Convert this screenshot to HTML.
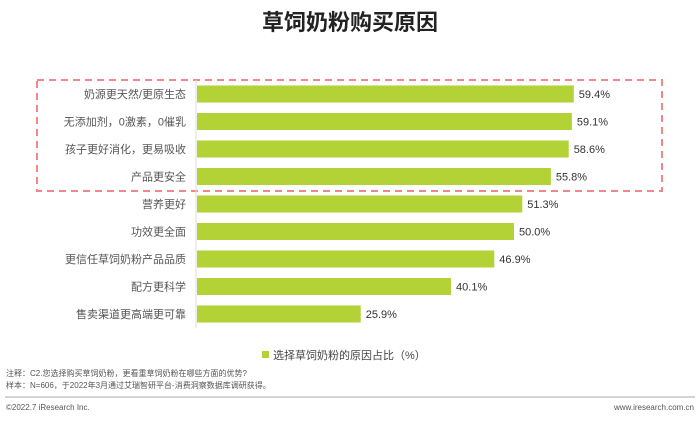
<!DOCTYPE html>
<html><head><meta charset="utf-8"><style>
body{margin:0;width:700px;height:420px;background:#fff;overflow:hidden;font-family:"Liberation Sans","Noto Sans CJK SC",sans-serif;}
svg text{font-family:"Liberation Sans","Noto Sans CJK SC",sans-serif;}
</style></head><body>
<svg id="c" width="700" height="420">
<text x="350" y="30" text-anchor="middle" font-size="22" font-weight="bold" fill="#222">草饲奶粉购买原因</text>
<rect x="37" y="80" width="625" height="111" fill="none" stroke="#f4868b" stroke-width="2" stroke-dasharray="7,5"/>
<line x1="196" y1="80" x2="196" y2="328" stroke="#ddd"/>
<g id="bars"></g>
<rect x="262" y="351" width="7" height="7" fill="#b2d235"/>
<text x="273" y="359" font-size="11" fill="#444">选择草饲奶粉的原因占比（%）</text>
<text x="6" y="376" font-size="8" fill="#555">注释：C2.您选择购买草饲奶粉，更看重草饲奶粉在哪些方面的优势?</text>
<text x="6" y="388" font-size="8" fill="#555">样本：N=606，于2022年3月通过艾瑞智研平台-消费洞察数据库调研获得。</text>
<line x1="5" y1="397" x2="695" y2="397" stroke="#aaa"/>
<text x="6" y="410" font-size="8" fill="#555">©2022.7 iResearch Inc.</text>
<text x="694" y="410" font-size="8" fill="#555" text-anchor="end">www.iresearch.com.cn</text>
</svg>
<script>
const categories=["奶源更天然/更原生态","无添加剂，0激素，0催乳","孩子更好消化，更易吸收","产品更安全","营养更好","功效更全面","更信任草饲奶粉产品品质","配方更科学","售卖渠道更高端更可靠"];
const values=[59.4,59.1,58.6,55.8,51.3,50.0,46.9,40.1,25.9];
const x0=196,scale=6.36,top0=94,step=27.5,bh=17;
const xs=v=>x0+v*scale;
const ys=i=>top0+i*step;
const g=document.getElementById('bars');
const NS='http://www.w3.org/2000/svg';
categories.forEach((c,i)=>{
 const r=document.createElementNS(NS,'rect');
 r.setAttribute('x',x0+1);r.setAttribute('y',ys(i)-bh/2);
 r.setAttribute('width',xs(values[i])-x0-1);r.setAttribute('height',bh);
 r.setAttribute('fill','#b2d235');
 
 
 g.appendChild(r);
 const t=document.createElementNS(NS,'text');
 t.setAttribute('x',186);t.setAttribute('y',ys(i)+4);t.setAttribute('text-anchor','end');
 t.setAttribute('font-size','11');t.setAttribute('fill','#555');t.textContent=c;
 
 
 g.appendChild(t);
 const v=document.createElementNS(NS,'text');
 v.setAttribute('x',xs(values[i])+5);v.setAttribute('y',ys(i)+4);
 v.setAttribute('font-size','11');v.setAttribute('fill','#333');v.textContent=values[i].toFixed(1)+'%';
 
 
 g.appendChild(v);
});
</script>
</body></html>
